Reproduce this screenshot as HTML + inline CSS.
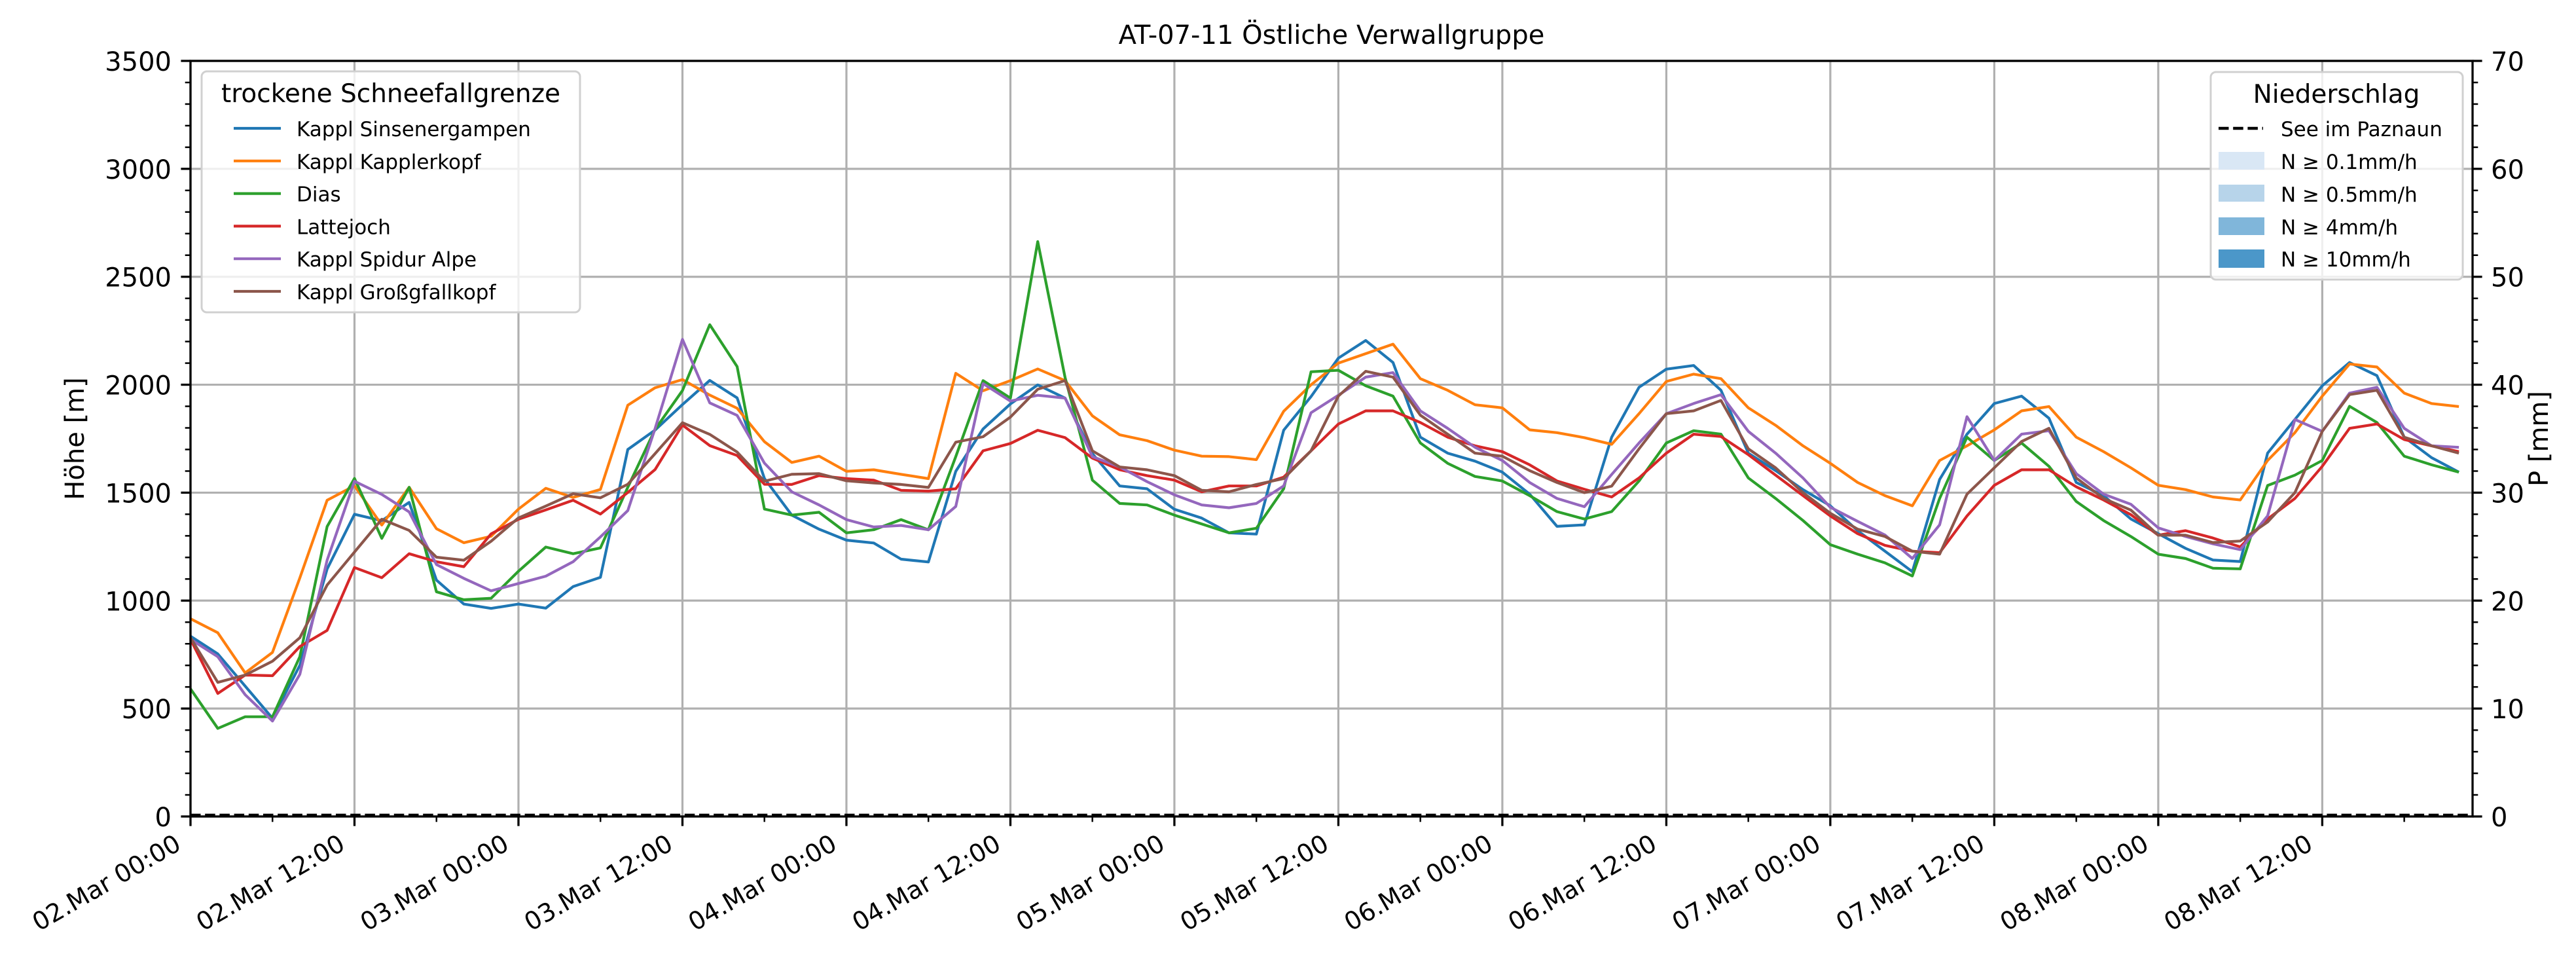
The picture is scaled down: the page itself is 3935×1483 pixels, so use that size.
<!DOCTYPE html>
<html><head><meta charset="utf-8"><title>AT-07-11 Östliche Verwallgruppe</title>
<style>
html,body{margin:0;padding:0;background:#fff;}
svg{display:block;font-family:"DejaVu Sans","Liberation Sans",sans-serif;}
</style></head>
<body>
<svg id="chart" width="3935" height="1483" viewBox="0 0 3935 1483" xmlns="http://www.w3.org/2000/svg">
<rect x="0" y="0" width="3935" height="1483" fill="#fff"/>
<g id="grid"></g>
<g id="series"></g>
<g id="axes"></g>
<text x="2034" y="67" font-size="40" text-anchor="middle">AT-07-11 Östliche Verwallgruppe</text>
<text transform="translate(128,670) rotate(-90)" font-size="40" text-anchor="middle">Höhe [m]</text>
<text transform="translate(3892,670) rotate(-90)" font-size="40" text-anchor="middle">P [mm]</text>

<g>
<rect x="308" y="109" width="578" height="368" rx="8" fill="#fff" fill-opacity="0.8" stroke="#d0d0d0" stroke-width="3"/>
<text x="597" y="156" font-size="39" text-anchor="middle">trockene Schneefallgrenze</text>
<g id="legend1"></g>
</g>

<g>
<rect x="3377" y="110" width="385" height="317" rx="8" fill="#fff" fill-opacity="0.8" stroke="#d0d0d0" stroke-width="3"/>
<text x="3569" y="157" font-size="39" text-anchor="middle">Niederschlag</text>
<line x1="3389" y1="196" x2="3457" y2="196" stroke="#000" stroke-width="4.5" stroke-dasharray="15.5,6.7"/>
<text x="3484" y="208" font-size="31">See im Paznaun</text>
<rect x="3389" y="232" width="70" height="27" fill="#d9e7f5"/>
<text x="3484" y="258" font-size="31">N ≥ 0.1mm/h</text>
<rect x="3389" y="282" width="70" height="26" fill="#b7d4ea"/>
<text x="3484" y="308" font-size="31">N ≥ 0.5mm/h</text>
<rect x="3389" y="332" width="70" height="27" fill="#80b6da"/>
<text x="3484" y="358" font-size="31">N ≥ 4mm/h</text>
<rect x="3389" y="381" width="70" height="28" fill="#4b97c9"/>
<text x="3484" y="407" font-size="31">N ≥ 10mm/h</text>
</g>
</svg>
<script>
const hours = [0,2,4,6,8,10,12,14,16,18,20,22,24,26,28,30,32,34,36,38,40,42,44,46,48,50,52,54,56,58,60,62,64,66,68,70,72,74,76,78,80,82,84,86,88,90,92,94,96,98,100,102,104,106,108,110,112,114,116,118,120,122,124,126,128,130,132,134,136,138,140,142,144,146,148,150,152,154,156,158,160,162,164,166];
const seriesNames = ["Kappl Sinsenergampen","Kappl Kapplerkopf","Dias","Lattejoch","Kappl Spidur Alpe","Kappl Großgfallkopf"];
const sinsenergampen = [835,753,604,455,700,1146,1400,1370,1455,1095,984,964,984,965,1065,1108,1700,1790,1908,2020,1939,1566,1396,1331,1280,1267,1192,1179,1599,1795,1911,1999,1938,1681,1531,1518,1423,1382,1314,1308,1789,1945,2123,2205,2103,1757,1683,1646,1595,1493,1344,1351,1757,1988,2072,2089,1974,1683,1602,1514,1439,1324,1229,1134,1561,1771,1913,1947,1845,1547,1486,1378,1310,1242,1188,1181,1683,1839,1995,2103,2042,1757,1662,1595];
const kapplerkopf = [916,851,665,760,1105,1465,1532,1350,1525,1333,1268,1298,1424,1520,1478,1515,1905,1986,2024,1952,1891,1736,1640,1669,1599,1606,1585,1565,2053,1972,2019,2073,2019,1856,1768,1741,1697,1669,1667,1653,1877,2000,2100,2144,2188,2028,1974,1907,1893,1791,1778,1755,1724,1866,2015,2049,2028,1893,1812,1717,1636,1547,1486,1439,1649,1717,1791,1879,1899,1757,1690,1615,1534,1514,1480,1466,1649,1778,1947,2096,2082,1961,1913,1899];
const dias = [591,408,462,462,740,1343,1566,1288,1525,1041,1004,1011,1136,1248,1217,1244,1525,1793,1973,2278,2084,1424,1396,1409,1314,1328,1375,1328,1667,2019,1938,2663,2033,1558,1450,1443,1396,1355,1314,1335,1518,2060,2067,1995,1947,1730,1636,1575,1554,1486,1412,1378,1412,1554,1730,1787,1771,1568,1473,1371,1259,1215,1175,1114,1473,1757,1649,1730,1622,1459,1371,1297,1215,1195,1150,1147,1533,1581,1649,1900,1825,1669,1629,1595];
const lattejoch = [821,570,655,652,787,862,1153,1106,1217,1180,1157,1309,1377,1420,1465,1401,1501,1607,1813,1718,1672,1539,1538,1579,1565,1558,1511,1507,1518,1694,1728,1789,1755,1660,1606,1579,1558,1504,1531,1531,1572,1694,1818,1879,1879,1825,1757,1717,1690,1629,1554,1516,1480,1568,1683,1771,1760,1676,1581,1486,1392,1310,1256,1229,1222,1392,1534,1606,1606,1527,1466,1398,1303,1324,1290,1249,1378,1473,1622,1798,1818,1746,1717,1690];
const spidurAlpe = [821,740,564,442,658,1187,1553,1492,1411,1167,1103,1045,1079,1113,1180,1295,1417,1797,2210,1916,1858,1637,1504,1443,1375,1341,1348,1328,1436,2005,1924,1951,1938,1667,1619,1551,1490,1443,1430,1450,1531,1870,1951,2035,2056,1879,1798,1710,1649,1547,1473,1435,1584,1730,1866,1913,1954,1784,1683,1568,1432,1367,1304,1195,1351,1852,1649,1771,1787,1588,1493,1446,1337,1297,1263,1236,1392,1839,1784,1961,1988,1798,1717,1710];
const grossgfallkopf = [828,621,655,719,828,1072,1225,1377,1325,1201,1187,1275,1383,1438,1495,1476,1539,1681,1824,1770,1688,1553,1585,1588,1555,1545,1538,1524,1734,1759,1850,1979,2019,1694,1619,1606,1579,1511,1504,1538,1565,1694,1947,2062,2035,1859,1771,1683,1669,1602,1547,1500,1530,1703,1866,1879,1927,1703,1615,1500,1405,1331,1297,1229,1215,1493,1615,1737,1798,1568,1473,1419,1303,1303,1269,1276,1364,1500,1784,1954,1974,1757,1717,1683];
const precipHours = [0,167];
const precipValues = [0,0];
const xTickLabels = ["02.Mar 00:00","02.Mar 12:00","03.Mar 00:00","03.Mar 12:00","04.Mar 00:00","04.Mar 12:00","05.Mar 00:00","05.Mar 12:00","06.Mar 00:00","06.Mar 12:00","07.Mar 00:00","07.Mar 12:00","08.Mar 00:00","08.Mar 12:00"];
const yTicks = [0,500,1000,1500,2000,2500,3000,3500];
const y2Ticks = [0,10,20,30,40,50,60,70];

const NS = "http://www.w3.org/2000/svg";
const L = 291, R = 3777, T = 93, B = 1247;
const xMax = 167, yMax = 3500, y2Max = 70;
const colors = ["#1f77b4","#ff7f0e","#2ca02c","#d62728","#9467bd","#8c564b"];
const dataSets = [sinsenergampen,kapplerkopf,dias,lattejoch,spidurAlpe,grossgfallkopf];
const keys = ["sinsenergampen","kapplerkopf","dias","lattejoch","spidur-alpe","grossgfallkopf"];
function xs(h){return L + h/xMax*(R-L);}
function ys(v){return B - v/yMax*(B-T);}
function ys2(v){return B - v/y2Max*(B-T);}
function mk(tag, attrs, parent){const e=document.createElementNS(NS,tag);for(const k in attrs)e.setAttribute(k,attrs[k]);parent.appendChild(e);return e;}
const grid=document.getElementById('grid'), ser=document.getElementById('series'), ax=document.getElementById('axes');

xTickLabels.forEach((lab,i)=>{
  const x=xs(i*12);
  const g=mk('line',{x1:x,y1:T,x2:x,y2:B,stroke:'#b0b0b0','stroke-width':3.2},grid);
  
  
  const t=mk('line',{x1:x,y1:B,x2:x,y2:B+14.6,stroke:'#000','stroke-width':3.3},ax);
  
  
  const tx=mk('text',{x:0,y:0,'font-size':38,'text-anchor':'end',transform:`translate(${x-12},${1296}) rotate(-30)`},ax);
  tx.textContent=lab;
  
  
});
for(let h=6;h<xMax;h+=12){
  const m=mk('line',{x1:xs(h),y1:B,x2:xs(h),y2:B+8.3,stroke:'#000','stroke-width':2.5},ax);
  
  
}
yTicks.forEach(v=>{
  const y=ys(v);
  const g=mk('line',{x1:L,y1:y,x2:R,y2:y,stroke:'#b0b0b0','stroke-width':3.2},grid);
  
  
  const t=mk('line',{x1:L-14.6,y1:y,x2:L,y2:y,stroke:'#000','stroke-width':3.3},ax);
  
  
  const tx=mk('text',{x:L-29,y:y+15,'font-size':40,'text-anchor':'end'},ax);
  tx.textContent=v;
  
  
});
for(let v=100;v<yMax;v+=100){ if(v%500===0) continue;
  const m=mk('line',{x1:L-8.3,y1:ys(v),x2:L,y2:ys(v),stroke:'#000','stroke-width':2.5},ax);
  
  
}
y2Ticks.forEach(v=>{
  const y=ys2(v);
  const t=mk('line',{x1:R,y1:y,x2:R+14.6,y2:y,stroke:'#000','stroke-width':3.3},ax);
  
  
  const tx=mk('text',{x:R+28,y:y+15,'font-size':40},ax);
  tx.textContent=v;
  
  
});
for(let v=2;v<y2Max;v+=2){ if(v%10===0) continue;
  const m=mk('line',{x1:R,y1:ys2(v),x2:R+8.3,y2:ys2(v),stroke:'#000','stroke-width':2.5},ax);
  
  
}

dataSets.forEach((d,i)=>{
  const pts=d.map((v,j)=>xs(hours[j]).toFixed(1)+','+ys(v).toFixed(1)).join(' ');
  const p=mk('polyline',{points:pts,fill:'none',stroke:colors[i],'stroke-width':4.2,'stroke-linejoin':'round'},ser);
  
  
});
const pp=precipHours.map((h,j)=>xs(h).toFixed(1)+','+(ys2(precipValues[j])-2).toFixed(1)).join(' ');
const pl=mk('polyline',{points:pp,fill:'none',stroke:'#000','stroke-width':4.5,'stroke-dasharray':'15.5,6.7'},ser);



const frame=mk('rect',{x:L,y:T,width:R-L,height:B-T,fill:'none',stroke:'#000','stroke-width':3.3},ax);



const leg=document.getElementById('legend1');
seriesNames.forEach((n,i)=>{
  const y=196+i*49.8;
  const l=mk('line',{x1:357,y1:y,x2:429,y2:y,stroke:colors[i],'stroke-width':4.2},leg);
  
  
  const t=mk('text',{x:453,y:y+12,'font-size':31},leg);
  t.textContent=n;
  
  
});
</script>
</body></html>
